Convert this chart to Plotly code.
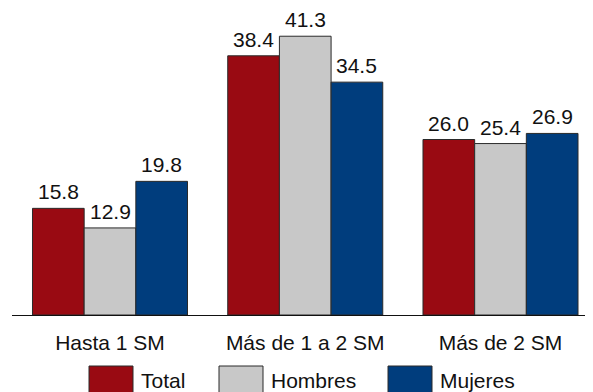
import plotly.graph_objects as go

categories = ["Hasta 1 SM", "Más de 1 a 2 SM", "Más de 2 SM"]
series_names = ["Total", "Hombres", "Mujeres"]
total = [15.8, 38.4, 26.0]
hombres = [12.9, 41.3, 25.4]
mujeres = [19.8, 34.5, 26.9]
series_values = [total, hombres, mujeres]
colors = ["#990a12", "#c8c8c8", "#003d7d"]

# page body has an 8px margin, so the figure is drawn 8px in from the window edge
OFF = 8
W, H = 593 - OFF, 392 - OFF
ML, MR, MT, MB = 4, 0, 5, 77
plot_h = H - MT - MB
px_per_unit = 6.75
FONT = "Liberation Sans, Arial, sans-serif"
FS = 21

def ypaper(p):  # p: window pixel
    return (H - MB - (p - OFF)) / plot_h

def xpaper(p):
    return ((p - OFF) - ML) / (W - ML - MR)

fig = go.Figure()
for name, vals, col in zip(series_names, series_values, colors):
    fig.add_trace(go.Bar(
        x=categories, y=vals, name=name,
        marker=dict(color=col, line=dict(color="#2a2a2a", width=1)),
        showlegend=False,
    ))

# data labels
bar_px = 51.7
annotations = []
for i, vals in enumerate(series_values):
    for c, v in zip(categories, vals):
        annotations.append(dict(
            x=c, y=v, xref="x", yref="y", text=f"{v:.1f}",
            showarrow=False, yanchor="bottom", xanchor="center",
            xshift=(i - 1) * bar_px, yshift=3,
            font=dict(family=FONT, size=FS, color="#111111"),
        ))

# custom legend
leg_swatch_left = [89, 219, 388]
shapes = []
for name, col, xl in zip(series_names, colors, leg_swatch_left):
    shapes.append(dict(
        type="rect", xref="paper", yref="paper",
        x0=xpaper(xl), x1=xpaper(xl + 44), y0=ypaper(366), y1=ypaper(394),
        fillcolor=col, line=dict(color="#2a2a2a", width=1),
    ))
    annotations.append(dict(
        x=xpaper(xl + 50), y=ypaper(380), xref="paper", yref="paper",
        text=name, showarrow=False, xanchor="left", yanchor="middle",
        font=dict(family=FONT, size=FS, color="#111111"),
    ))

# x range so category spacing is ~195 px, plot starting at window x=12
span = (W - ML - MR) / 195.25
x0 = -0.5 - 0.0 / 195.25
x0 = -(110 - 12) / 195.25

fig.update_layout(
    width=W, height=H,
    margin=dict(l=ML, r=MR, t=MT, b=MB, pad=0),
    paper_bgcolor="white", plot_bgcolor="white",
    barmode="group", bargap=0.206, bargroupgap=0,
    annotations=annotations, shapes=shapes,
    font=dict(family=FONT, size=FS, color="#111111"),
)
fig.update_xaxes(
    type="category", range=[x0, x0 + span],
    showline=True, linecolor="#111111", linewidth=1,
    ticks="", ticklabelstandoff=9, showgrid=False,
    tickfont=dict(family=FONT, size=FS, color="#111111"),
)
fig.update_yaxes(
    range=[0, plot_h / px_per_unit], visible=False, showgrid=False, zeroline=False,
)

fig.write_html("out.html")
